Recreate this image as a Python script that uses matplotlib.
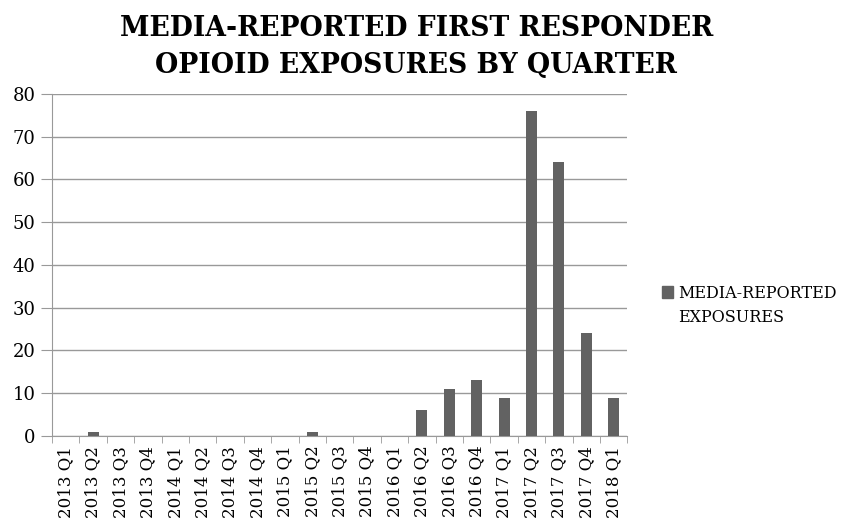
import numpy as np
import matplotlib.pyplot as plt
from matplotlib.patches import Patch

quarters = ["2013 Q1", "2013 Q2", "2013 Q3", "2013 Q4",
            "2014 Q1", "2014 Q2", "2014 Q3", "2014 Q4",
            "2015 Q1", "2015 Q2", "2015 Q3", "2015 Q4",
            "2016 Q1", "2016 Q2", "2016 Q3", "2016 Q4",
            "2017 Q1", "2017 Q2", "2017 Q3", "2017 Q4",
            "2018 Q1"]
exposures = [0, 1, 0, 0,
             0, 0, 0, 0,
             0, 1, 0, 0,
             0, 6, 11, 13,
             9, 76, 64, 24,
             9]

plt.rcParams["font.family"] = ["DejaVu Serif"]

fig = plt.figure(figsize=(8.46, 5.2), dpi=100)
ax = fig.add_axes([0.0615, 0.1615, 0.68, 0.658])

x = np.arange(len(quarters))
ax.bar(x, exposures, width=0.4, color="#626262", zorder=3)

ax.set_xlim(-0.5, len(quarters) - 0.5)
ax.set_ylim(0, 80)
ax.set_yticks(range(0, 81, 10))
ax.yaxis.grid(True, color="#999999", linewidth=1.0, zorder=0)
ax.tick_params(axis="y", length=8, color="#999999", labelsize=13, pad=4)

ax.set_xticks(x)
ax.set_xticklabels(quarters, rotation=90, fontsize=12)
ax.set_xticks(np.arange(-0.5, len(quarters)), minor=True)
ax.tick_params(axis="x", which="major", length=0, pad=7)
ax.tick_params(axis="x", which="minor", length=5, color="#999999")

for s in ["top", "right"]:
    ax.spines[s].set_visible(False)
for s in ["left", "bottom"]:
    ax.spines[s].set_color("#999999")

fig.text(0.492, 0.91, "MEDIA-REPORTED FIRST RESPONDER\nOPIOID EXPOSURES BY QUARTER",
         ha="center", va="center", fontsize=19.2, fontweight="bold", linespacing=1.45)

# legend: square sits beside the first line, second line wraps below
handle = Patch(color="#626262", label="MEDIA-REPORTED")
fig.legend(handles=[handle], loc="center left", bbox_to_anchor=(0.7825, 0.4365),
           frameon=False, fontsize=11.5, handlelength=0.7, handleheight=0.7,
           handletextpad=0.3, borderaxespad=0.0, borderpad=0.0)
fig.text(0.8014, 0.3885, "EXPOSURES", ha="left", va="center", fontsize=11.5)

fig.savefig("out.png", dpi=100, facecolor="white")
